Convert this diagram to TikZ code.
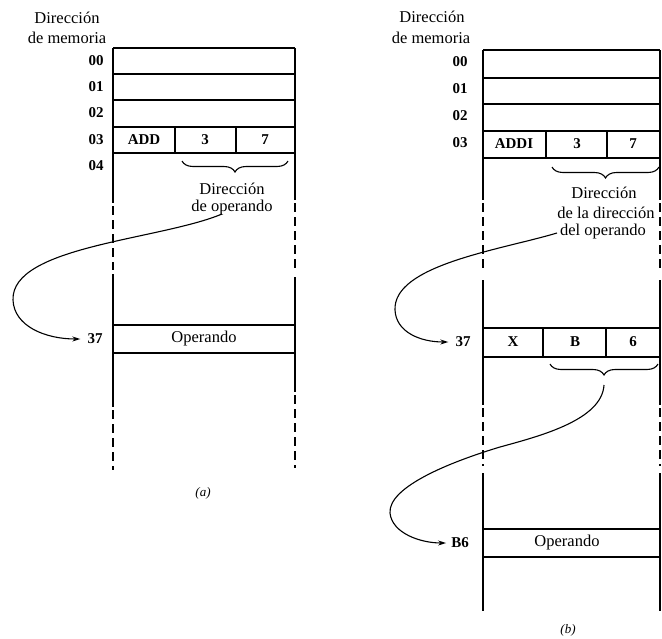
\documentclass[tikz,border=0pt]{standalone}
\usepackage{fontspec}
\setmainfont{Liberation Serif}
\usetikzlibrary{decorations.pathreplacing,arrows.meta}
\begin{document}
\begin{tikzpicture}[x=1pt,y=-1pt,
  wall/.style={line width=1.8pt},
  gap/.style={line width=1.8pt, dash pattern=on 9pt off 5pt},
  rowline/.style={line width=1.5pt},
  txt/.style={font=\fontsize{16.5}{18}\selectfont, inner sep=0pt},
  addr/.style={font=\fontsize{15}{17}\selectfont\bfseries, inner sep=0pt},
  figtag/.style={font=\fontsize{13}{15}\selectfont\itshape, inner sep=0pt},
  brc/.style={decorate, decoration={brace,mirror,amplitude=11pt,aspect=0.5}, line width=1.1pt},
  link/.style={line width=1.1pt, -{Stealth[length=8pt,width=5pt]}}
]
\useasboundingbox (0,0) rectangle (662,638);

% ---------------- (a) direct addressing ----------------
\node[txt] (hdA1) at (67,18) {Dirección};
\node[txt] (hdA2) at (67,38) {de memoria};

% memory column walls
\draw[wall] (113,48) -- (113,203);
\draw[gap]  (113,206) -- (113,270);
\draw[wall] (113,274) -- (113,407);
\draw[gap]  (113,410) -- (113,470);
\draw[wall] (295,48) -- (295,200);
\draw[gap]  (295,203) -- (295,270);
\draw[wall] (295,277) -- (295,392);
\draw[gap]  (295,395) -- (295,468);

% words 00..03
\foreach \y in {48,74,100,127,153} \draw[rowline] (113,\y) -- (295,\y);
\draw[rowline] (175,127) -- (175,153);
\draw[rowline] (236,127) -- (236,153);
\node[addr] (a00) at (96,61) {00};
\node[addr] (a01) at (96,87) {01};
\node[addr] (a02) at (96,113) {02};
\node[addr] (a03) at (96,140) {03};
\node[addr] (a04) at (96,166) {04};
\node[addr] (opA)  at (144,140) {ADD};
\node[addr] (hiA)  at (205,140) {3};
\node[addr] (loA)  at (265,140) {7};

\draw[brc] (182,161) -- (288,161);
\node[txt] (baA1) at (232,189) {Dirección};
\node[txt] (baA2) at (232,208) {de operando};

% operand word at 37
\draw[rowline] (113,325) -- (295,325);
\draw[rowline] (113,353) -- (295,353);
\node[addr] (a37) at (95,339) {37};
\node[txt] (valA) at (204,339) {Operando};

\coordinate (fromA) at (222,214);
\draw[link] (fromA) .. controls (160,240) and (11,246) .. (13,300)
                    .. controls (14,326) and (45,339) .. ([xshift=-7pt]a37.west);

\node[figtag] (capA) at (203,493) {(a)};

% ---------------- (b) indirect addressing ----------------
\node[txt] (hdB1) at (432,17) {Dirección};
\node[txt] (hdB2) at (431,38) {de memoria};

\foreach \x in {483,660}{
  \draw[wall] (\x,50) -- (\x,200);
  \draw[gap]  (\x,203) -- (\x,272);
  \draw[wall] (\x,280) -- (\x,405);
  \draw[gap]  (\x,408) -- (\x,466);
  \draw[wall] (\x,473) -- (\x,611);
}

\foreach \y in {50,78,104,131,158} \draw[rowline] (483,\y) -- (660,\y);
\draw[rowline] (546,131) -- (546,158);
\draw[rowline] (607,131) -- (607,158);
\node[addr] (b00) at (460,62) {00};
\node[addr] (b01) at (460,89) {01};
\node[addr] (b02) at (460,116) {02};
\node[addr] (b03) at (460,143) {03};
\node[addr] (opB) at (514,144) {ADDI};
\node[addr] (hiB) at (577,144) {3};
\node[addr] (loB) at (633,144) {7};

\draw[brc] (552,167) -- (659,167);
\node[txt] (baB1) at (604,193) {Dirección};
\node[txt] (baB2) at (606,213) {de la dirección};
\node[txt] (baB3) at (603,232) {del operando};

% pointer word at 37
\draw[rowline] (483,328) -- (660,328);
\draw[rowline] (483,357) -- (660,357);
\draw[rowline] (543,328) -- (543,357);
\draw[rowline] (606,328) -- (606,357);
\node[addr] (b37) at (463,342) {37};
\node[addr] (xB) at (513,342) {X};
\node[addr] (hB) at (575,342) {B};
\node[addr] (lB) at (633,342) {6};

\draw[brc] (550,364) -- (658,364);
\coordinate (tipB) at (604,385);

% operand word at B6
\draw[rowline] (483,529) -- (660,529);
\draw[rowline] (483,557) -- (660,557);
\node[addr] (bB6) at (460,543) {B6};
\node[txt] (valB) at (567,543) {Operando};

\coordinate (fromB) at (557,233);
\draw[link] (fromB) .. controls (500,250) and (393,265) .. (395,310)
                    .. controls (396,332) and (420,342) .. ([xshift=-7pt]b37.west);
\draw[link] (tipB) .. controls (602,420) and (540,436) .. (500,447)
                   .. controls (450,462) and (388,487) .. (390,513)
                   .. controls (392,533) and (420,543) .. ([xshift=-5pt]bB6.west);

\node[figtag] (capB) at (568,630) {(b)};
\end{tikzpicture}
\end{document}
